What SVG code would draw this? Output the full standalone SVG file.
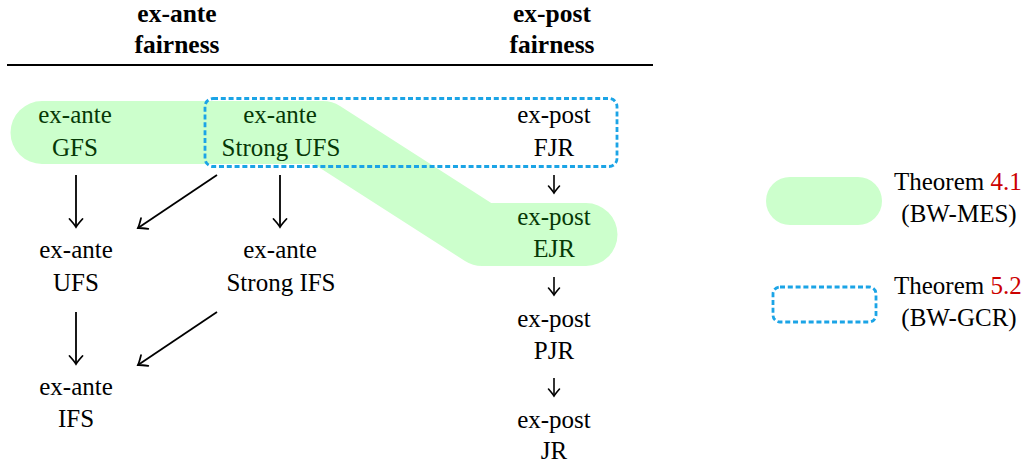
<svg xmlns="http://www.w3.org/2000/svg" width="1029" height="465" viewBox="0 0 1029 465">
<style>
text{font-family:"Liberation Serif","Times New Roman",serif;font-size:25px;text-anchor:middle;fill:#000}
.hd{font-weight:bold;font-size:25.5px}
.ing{fill:#063806}
.red{fill:#cc0000}
.lg{text-anchor:start}
.ed{stroke:#000;stroke-width:1.8;fill:none;marker-end:url(#ah)}
.sm{stroke:#000;stroke-width:1.6;fill:none;marker-end:url(#ah2)}
.blue{fill:none;stroke:#1ba4e6;stroke-width:2.8;stroke-dasharray:5 2.8}
</style>
<defs>
<marker id="ah" markerUnits="userSpaceOnUse" markerWidth="16" markerHeight="16" refX="0" refY="0" viewBox="-9 -8 11 16" orient="auto" overflow="visible">
<path d="M-8,-6.5 Q-2.5,-1.5 0,0 Q-2.5,1.5 -8,6.5" fill="none" stroke="#000" stroke-width="1.8" stroke-linecap="round"/>
</marker>
<marker id="ah2" markerUnits="userSpaceOnUse" markerWidth="14" markerHeight="14" refX="0" refY="0" viewBox="-8 -7 10 14" orient="auto" overflow="visible">
<path d="M-7,-5.5 Q-2,-1.2 0,0 Q-2,1.2 -7,5.5" fill="none" stroke="#000" stroke-width="1.6" stroke-linecap="round"/>
</marker>
</defs>

<g id="header">
<text class="hd" x="177" y="22">ex-ante</text>
<text class="hd" x="177" y="53">fairness</text>
<text class="hd" x="552" y="22">ex-post</text>
<text class="hd" x="552" y="53">fairness</text>
<line x1="7" y1="65" x2="653" y2="65" stroke="#000" stroke-width="2"/>
</g>

<g id="region-bwmes">
<path d="M42,132.5 L323,132.5 L482,234.5 L586,234.5" fill="none" stroke="#ccffcc" stroke-width="63" stroke-linecap="round" stroke-linejoin="round"/>
</g>

<g id="node-gfs">
<text class="ing" x="75" y="123">ex-ante</text>
<text class="ing" x="75" y="156">GFS</text>
</g>
<g id="node-strong-ufs">
<text class="ing" x="280" y="123">ex-ante</text>
<text class="ing" x="281" y="156">Strong UFS</text>
</g>
<g id="node-fjr">
<text x="554" y="123">ex-post</text>
<text x="554" y="156">FJR</text>
</g>
<g id="node-ejr">
<text class="ing" x="554" y="225">ex-post</text>
<text class="ing" x="554" y="257">EJR</text>
</g>
<g id="node-pjr">
<text x="554" y="327">ex-post</text>
<text x="554" y="359">PJR</text>
</g>
<g id="node-jr">
<text x="554" y="428">ex-post</text>
<text x="554" y="459">JR</text>
</g>
<g id="node-ufs">
<text x="76" y="258">ex-ante</text>
<text x="76" y="291">UFS</text>
</g>
<g id="node-strong-ifs">
<text x="280" y="258">ex-ante</text>
<text x="281" y="291">Strong IFS</text>
</g>
<g id="node-ifs">
<text x="76" y="395">ex-ante</text>
<text x="76" y="427">IFS</text>
</g>

<g id="region-bwgcr">
<rect class="blue" x="205" y="98.5" width="412" height="68" rx="8"/>
</g>

<g id="connectors">
<path class="ed" d="M76,175 L76,227"/>
<path class="ed" d="M217,175 L138,228"/>
<path class="ed" d="M280,175 L280,227"/>
<path class="ed" d="M76,312 L76,364"/>
<path class="ed" d="M217,312 L138,365"/>
<path class="sm" d="M554,175 L554,193"/>
<path class="sm" d="M554,277 L554,295"/>
<path class="sm" d="M554,378 L554,396"/>
</g>

<g id="legend">
<rect x="766" y="177" width="116" height="48" rx="24" fill="#ccffcc"/>
<text class="lg" x="894" y="190">Theorem <tspan class="red">4.1</tspan></text>
<text x="959" y="222">(BW-MES)</text>
<rect class="blue" x="773" y="287" width="103" height="35" rx="7"/>
<text class="lg" x="894" y="294">Theorem <tspan class="red">5.2</tspan></text>
<text x="959" y="326">(BW-GCR)</text>
</g>
</svg>
